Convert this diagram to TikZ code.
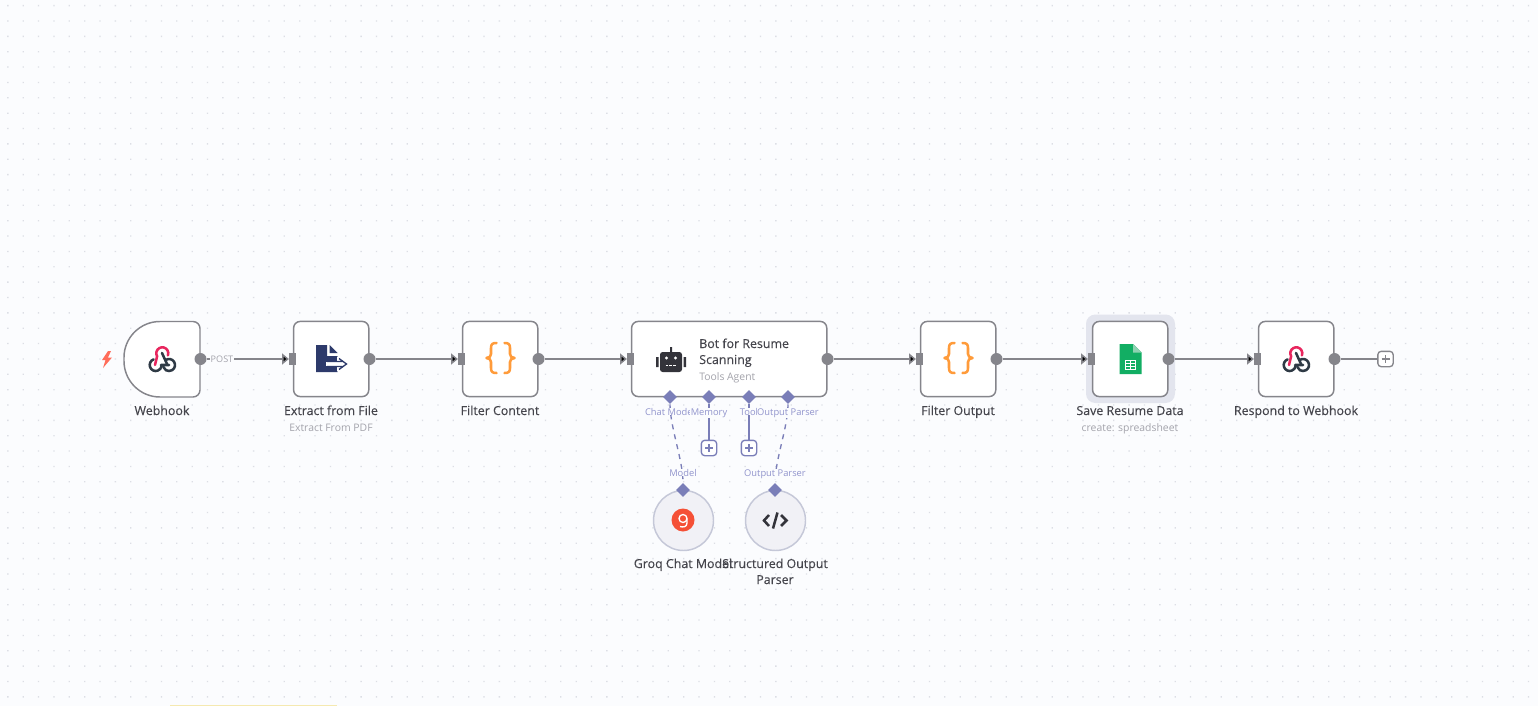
\documentclass[tikz,border=0pt]{standalone}
\usepackage{fontspec}
\setmainfont{Open Sans}
\newfontfamily\mediumfont[FakeBold=0.25]{Open Sans}
\usetikzlibrary{arrows.meta,shapes.geometric}
\definecolor{canvasbg}{HTML}{FBFCFE}
\definecolor{griddot}{HTML}{DCDEE5}
\definecolor{linegray}{HTML}{85858B}
\definecolor{textdark}{HTML}{45454C}
\definecolor{textlight}{HTML}{A3A3AB}
\definecolor{aiblue}{HTML}{7A7EB8}
\definecolor{ailabel}{HTML}{9194CC}
\definecolor{hookpink}{HTML}{E8265E}
\definecolor{hookdark}{HTML}{2F3A45}
\definecolor{navydoc}{HTML}{2D3A6B}
\definecolor{bracecolor}{HTML}{FF9B3A}
\definecolor{sheetgreen}{HTML}{12AE63}
\definecolor{sheetfold}{HTML}{8ED1B1}
\definecolor{haloblue}{HTML}{E3E5EE}
\definecolor{subline}{HTML}{C5C8D8}
\definecolor{subfill}{HTML}{F1F1F6}
\definecolor{boltred}{HTML}{FF6D5A}
\definecolor{groqred}{HTML}{F55036}
\definecolor{iconblack}{HTML}{33333A}
\definecolor{stripyellow}{HTML}{F5E9B0}
\newcommand{\hookicon}[2]{\begin{scope}[shift={(#1,#2)},line width=1.9pt,line cap=round]
  \draw[hookdark] (0,-7) -- (5,4) (4,-0.2) arc (240:520:6);
  \draw[hookdark] (-8.35,-0.64) arc (250:10:6) (-1,5) -- (7,5);
  \draw[hookpink] (-7,5) -- (-4.9,-3.7) arc (150:380:6);
\end{scope}}
\newcommand{\braceicon}[2]{\begin{scope}[shift={(#1,#2)},line width=1.9pt,draw=bracecolor,line cap=round,line join=round]
  \draw (-4,-15) .. controls (-8,-15) and (-9.5,-14) .. (-9.5,-10) -- (-9.5,-4) .. controls (-9.5,-2) and (-11,0) .. (-14,0) .. controls (-11,0) and (-9.5,2) .. (-9.5,4) -- (-9.5,10) .. controls (-9.5,14) and (-8,15) .. (-4,15);
  \draw (4,-15) .. controls (8,-15) and (9.5,-14) .. (9.5,-10) -- (9.5,-4) .. controls (9.5,-2) and (11,0) .. (14,0) .. controls (11,0) and (9.5,2) .. (9.5,4) -- (9.5,10) .. controls (9.5,14) and (8,15) .. (4,15);
\end{scope}}
\begin{document}
\begin{tikzpicture}[x=0.75pt, y=-0.75pt,
                        workbox/.style={rectangle, draw=linegray, fill=white, line width=1.1pt, rounded corners=5pt, minimum width=56.4pt, minimum height=56.4pt, inner sep=0pt},
                        widebox/.style={workbox, minimum width=146.4pt},
                        outdot/.style={circle, fill=linegray, minimum size=9pt, inner sep=0pt},
                        inport/.style={rectangle, fill=linegray, minimum width=5pt, minimum height=9pt, inner sep=0pt},
                        aidot/.style={diamond, fill=aiblue, minimum size=10.5pt, inner sep=0pt},
                        subcircle/.style={circle, draw=subline, fill=subfill, line width=1.1pt, minimum size=45pt, inner sep=0pt},
                        addbox/.style={rectangle, draw=#1, fill=white, line width=1pt, rounded corners=2.5pt, minimum size=11.5pt, inner sep=0pt,
                                       path picture={\draw[draw=#1, line width=.8pt] (path picture bounding box.center)+(-4,0) -- +(4,0) (path picture bounding box.center)+(0,-4) -- +(0,4);}},
                        namelabel/.style={anchor=base, text=textdark, inner sep=0pt, align=center, font=\mediumfont\fontsize{9.3}{12}\selectfont},
                        sublabel/.style={anchor=base, text=textlight, inner sep=0pt, font=\fontsize{7.8}{10}\selectfont},
                        ailabeltext/.style={anchor=base, text=ailabel, fill=canvasbg, inner sep=0.3pt, font=\fontsize{7}{9}\selectfont},
                        mainlink/.style={draw=linegray, line width=1.1pt, -{Triangle[length=5pt,width=8pt]}},
                        plainlink/.style={draw=linegray, line width=1.1pt},
                        ailink/.style={draw=aiblue, line width=1pt},
                        dashlink/.style={draw=aiblue, line width=1pt, dash pattern=on 3.8pt off 3.8pt}]
                
                        % Define canvas
                        \fill[canvasbg] (0,0) rectangle (1538,706);
                        \useasboundingbox (0,0) rectangle (1538,706);
                        \fill[griddot] \foreach \i in {0,...,99} {\foreach \j in {0,...,45} {({7.2+15.36*\i},{5+15.36*\j}) rectangle +(1.3,1.3)}};
                        \fill[stripyellow] (170,705) rectangle (337,706);

                        % Define nodes
                        \fill[rounded corners=7pt, fill=haloblue] (1086,314.5) rectangle (1175,403);
                        \node[workbox, draw=none, fill=none] (webhook) at (162,359) {}; % Trigger
                        \draw[draw=linegray, fill=white, line width=1.1pt] (160,321.5) -- (193,321.5) arc (-90:0:7) -- (200,390) arc (0:90:7) -- (160,397) arc (90:180:36) -- (124,357.5) arc (180:270:36) -- cycle;
                        \node[workbox] (extract) at (331.2,359) {};
                        \node[workbox] (filterA) at (500.2,359) {};
                        \node[widebox] (agent) at (729.2,359) {};
                        \node[workbox] (filterB) at (958.2,359) {};
                        \node[workbox] (save) at (1130.2,359) {};
                        \node[workbox] (respond) at (1296.2,359) {};
                        \node[subcircle] (groq) at (683.5,520.5) {}; % Sub node of agent
                        \node[subcircle] (parser) at (775.5,520.5) {}; % Sub node of agent

                        % Define ports
                        \node[outdot] (webhookOut) at (200.5,359) {};
                        \node[outdot] (extractOut) at (369.5,359) {};
                        \node[outdot] (filterAOut) at (538.5,359) {};
                        \node[outdot] (agentOut) at (827.5,359) {};
                        \node[outdot] (filterBOut) at (996.5,359) {};
                        \node[outdot] (saveOut) at (1168.5,359) {};
                        \node[outdot] (respondOut) at (1334.5,359) {};
                        \node[inport] (extractIn) at (292.5,359) {};
                        \node[inport] (filterAIn) at (461.5,359) {};
                        \node[inport] (agentIn) at (630.5,359) {};
                        \node[inport] (filterBIn) at (919.5,359) {};
                        \node[inport] (saveIn) at (1091.5,359) {};
                        \node[inport] (respondIn) at (1257.5,359) {};
                        \node[aidot] (chatDot) at (670,397) {};
                        \node[aidot] (memoryDot) at (709,397) {};
                        \node[aidot] (toolDot) at (749,397) {};
                        \node[aidot] (outputDot) at (788,397) {};
                        \node[aidot] (groqDot) at (683,490) {};
                        \node[aidot] (parserDot) at (775,490) {};
                        \node[addbox=aiblue] (memoryAdd) at (709,448) {};
                        \node[addbox=aiblue] (toolAdd) at (749,448) {};
                        \node[addbox=linegray] (endAdd) at (1385.5,359) {};

                        % Define edges
                        \path [mainlink](webhookOut) edge (extractIn);
                        \path [mainlink](extractOut) edge (filterAIn);
                        \path [mainlink](filterAOut) edge (agentIn);
                        \path [mainlink](agentOut) edge (filterBIn);
                        \path [mainlink](filterBOut) edge (saveIn);
                        \path [mainlink](saveOut) edge (respondIn);
                        \path [plainlink](respondOut) edge (endAdd);
                        \path [ailink](memoryDot) edge (memoryAdd);
                        \path [ailink](toolDot) edge (toolAdd);
                        \draw[dashlink] (chatDot) .. controls +(0,30) and +(0,-30) .. (groqDot);
                        \draw[dashlink] (outputDot) .. controls +(0,30) and +(0,-30) .. (parserDot);

                        % Define labels
                        \node[anchor=base, text=textlight, fill=canvasbg, inner sep=0.3pt, font=\fontsize{6.8}{9}\selectfont] (postLabel) at (222,362) {POST};
                        \node[namelabel] (webhookLabel) at (162,415) {Webhook};
                        \node[namelabel] (extractLabel) at (331,415) {Extract from File};
                        \node[sublabel] (extractSub) at (331,431) {Extract From PDF};
                        \node[namelabel] (filterALabel) at (500,415) {Filter Content};
                        \node[namelabel, anchor=base west] (agentLineA) at (699,348) {Bot for Resume};
                        \node[namelabel, anchor=base west] (agentLineB) at (699,364) {Scanning};
                        \node[sublabel, anchor=base west] (agentSub) at (699,380) {Tools Agent};
                        \node[namelabel] (filterBLabel) at (958,415) {Filter Output};
                        \node[namelabel] (saveLabel) at (1130,415) {Save Resume Data};
                        \node[sublabel] (saveSub) at (1130,431) {create: spreadsheet};
                        \node[namelabel] (respondLabel) at (1296,415) {Respond to Webhook};
                        \node[namelabel] (groqLabel) at (683,568) {Groq Chat Model};
                        \node[namelabel] (parserLabel) at (775,584) {Structured Output\\Parser};
                        \node[ailabeltext] (chatLabel) at (670,415) {Chat Model};
                        \node[ailabeltext] (memoryLabel) at (709,415) {Memory};
                        \node[ailabeltext] (toolLabel) at (749,415) {Tool};
                        \node[ailabeltext] (outputLabel) at (788,415) {Output Parser};
                        \node[ailabeltext] (modelLabel) at (683,476) {Model};
                        \node[ailabeltext] (parserInLabel) at (775,476) {Output Parser};

                        % Define icons
                        \fill[boltred] (108,351) -- (102,360) -- (105.5,360) -- (103,368) -- (112,357.5) -- (108,357.5) -- (111,351) -- cycle; % Bolt
                        \hookicon{162}{360}
                        \hookicon{1296}{360}
                        \braceicon{500.5}{358}
                        \braceicon{958.5}{358}
                        \fill[navydoc] (316,345) -- (327,345) -- (327,356) -- (337.5,356) -- (337.5,372) -- (316,372) -- cycle; % Extract
                        \fill[navydoc] (329.5,345) -- (337.5,353) -- (329.5,353) -- cycle;
                        \draw[white, line width=3.6pt] (326,364) -- (340,364);
                        \fill[white] (337,356.5) -- (349,364) -- (337,371.5) -- cycle;
                        \draw[navydoc, line width=1pt] (327,361.5) -- (342,361.5) (327,366.5) -- (342,366.5) (339,358.5) -- (346.5,364) -- (339,369.5);
                        \fill[rounded corners=2pt, fill=iconblack] (660,352) rectangle (682,372); % Robot
                        \fill[iconblack] (656,357) rectangle (658.5,367) (683.5,357) rectangle (686,367) (670,347) rectangle (672,352);
                        \fill[white] (666.5,358) circle (1.6) (675.5,358) circle (1.6);
                        \draw[white, line width=1pt, dash pattern=on 1.9pt off 1pt] (665.5,365.5) -- (676.5,365.5);
                        \fill[sheetgreen] (1119.5,344) -- (1133,344) -- (1141.5,352.5) -- (1141.5,374) -- (1119.5,374) -- cycle; % Sheet
                        \fill[sheetfold] (1133,344) -- (1141.5,352.5) -- (1133,352.5) -- cycle;
                        \draw[white, line width=.8pt] (1125.5,360.5) rectangle (1135.5,369.5) (1125.5,363.5) -- (1135.5,363.5) (1125.5,366.5) -- (1135.5,366.5) (1130.5,360.5) -- (1130.5,369.5);
                        \fill[groqred] (683,520) circle (11.5); % Groq
                        \draw[white, line width=1pt] (683,518.5) circle (4);
                        \draw[white, line width=1pt] (687,518.5) -- (687,523) .. controls (687,527) and (683,527.5) .. (680,526.5);
                        \draw[iconblack, line width=1.9pt] (769,515) -- (764,520.5) -- (769,526) (781,515) -- (786.5,520.5) -- (781,526) (777.5,512.5) -- (773,528.5); % Parser
                        \end{tikzpicture}
\end{document}
